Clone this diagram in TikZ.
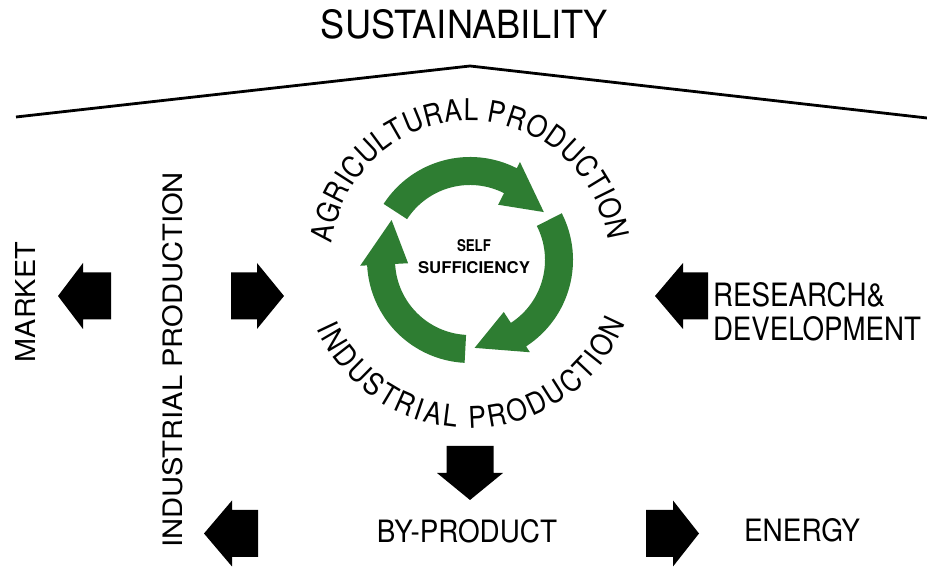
\documentclass[tikz,border=0pt]{standalone}
\usepackage{graphicx}
\usepackage{fontspec}
\setmainfont{TeX Gyre Heros}
\newfontfamily\curvefont[FakeStretch=0.88]{TeX Gyre Heros}
\usetikzlibrary{decorations.text}
\definecolor{cyclegreen}{RGB}{46,125,50}
\newcommand\fitbox[3]{\resizebox{#1pt}{#2pt}{#3}}
% horizontal block arrow: end x, head-base x, tip x, centre y
\newcommand\hblock[4]{\fill[blockfill] ({#1},{#4-23.5}) -- ({#2},{#4-23.5}) -- ({#2},{#4-33}) -- ({#3},{#4}) -- ({#2},{#4+33}) -- ({#2},{#4+23.5}) -- ({#1},{#4+23.5}) -- cycle;}
% one arrow of the green cycle, tail angle given
\newcommand\cyclearrow[1]{\fill[cyclegreen] (#1:103pt) arc[start angle=#1, end angle=#1-84, radius=103pt] -- ({#1-84}:110pt) -- ({#1-114}:88pt) -- ({#1-84}:62pt) -- ({#1-84}:75pt) arc[start angle=#1-84, end angle=#1, radius=75pt] -- cycle;}
\tikzset{
  lbl/.style={inner sep=0pt, outer sep=0pt, text=black},
  blockfill/.style={fill=black},
  roof/.style={line width=2.8pt, line join=miter, black},
}
\begin{document}
\begin{tikzpicture}[x=1pt,y=1pt]
\useasboundingbox (0,0) rectangle (927,567);
\fill[white] (0,0) rectangle (927,567);

% title and roof
\node[lbl] (sust) at (464.5,542.5) {\fitbox{287}{29}{SUSTAINABILITY}};
\coordinate (roofL) at (16,450);
\coordinate (roofT) at (470,501);
\coordinate (roofR) at (927,449);
\draw[roof] (roofL) -- (roofT) -- (roofR);

% green cycle
\begin{scope}[shift={(470,307)}]
  \cyclearrow{147}
  \cyclearrow{27}
  \cyclearrow{-93}
  \path[decorate, decoration={text along path,
      text={|\curvefont\fontsize{30}{34}\selectfont|AGRICULTURAL PRODUCTION},
      text align={fit to path}}]
    (173:139pt) arc[start angle=173, end angle=8, radius=139pt];
  \path[decorate, decoration={text along path,
      text={|\curvefont\fontsize{30}{34}\selectfont|INDUSTRIAL PRODUCTION},
      text align={fit to path}}]
    (-156:168pt) arc[start angle=-156, end angle=-22, radius=168pt];
\end{scope}
\node[lbl] (self) at (474,321) {\fitbox{34}{12}{\bfseries SELF}};
\node[lbl] (suff) at (474,299.5) {\fitbox{112}{12}{\bfseries SUFFICIENCY}};

% left labels
\node[lbl, rotate=90] (market) at (25,265) {\fitbox{120}{20}{MARKET}};
\node[lbl, rotate=90] (indprod) at (173,207) {\fitbox{376}{20}{INDUSTRIAL PRODUCTION}};

% right labels
\node[lbl, anchor=west] (research) at (713,272) {\fitbox{172}{24}{RESEARCH\&}};
\node[lbl, anchor=west] (develop) at (713,238) {\fitbox{208}{24}{DEVELOPMENT}};

% bottom labels
\node[lbl] (byprod) at (467,35.5) {\fitbox{180}{23}{BY-PRODUCT}};
\node[lbl] (energy) at (802,36.5) {\fitbox{116}{23}{ENERGY}};

% block arrows
\hblock{111}{83}{58}{271}     % towards MARKET
\hblock{231}{257}{284}{271}   % towards cycle
\hblock{258}{232}{204}{33.5}  % bottom left
\hblock{708}{683}{655}{271}   % from research
\hblock{646}{673}{699}{33.5}  % towards energy
\fill[blockfill] (446.5,121) -- (446.5,94) -- (437,94) -- (470,67) -- (503,94) -- (493.5,94) -- (493.5,121) -- cycle;
\end{tikzpicture}
\end{document}
